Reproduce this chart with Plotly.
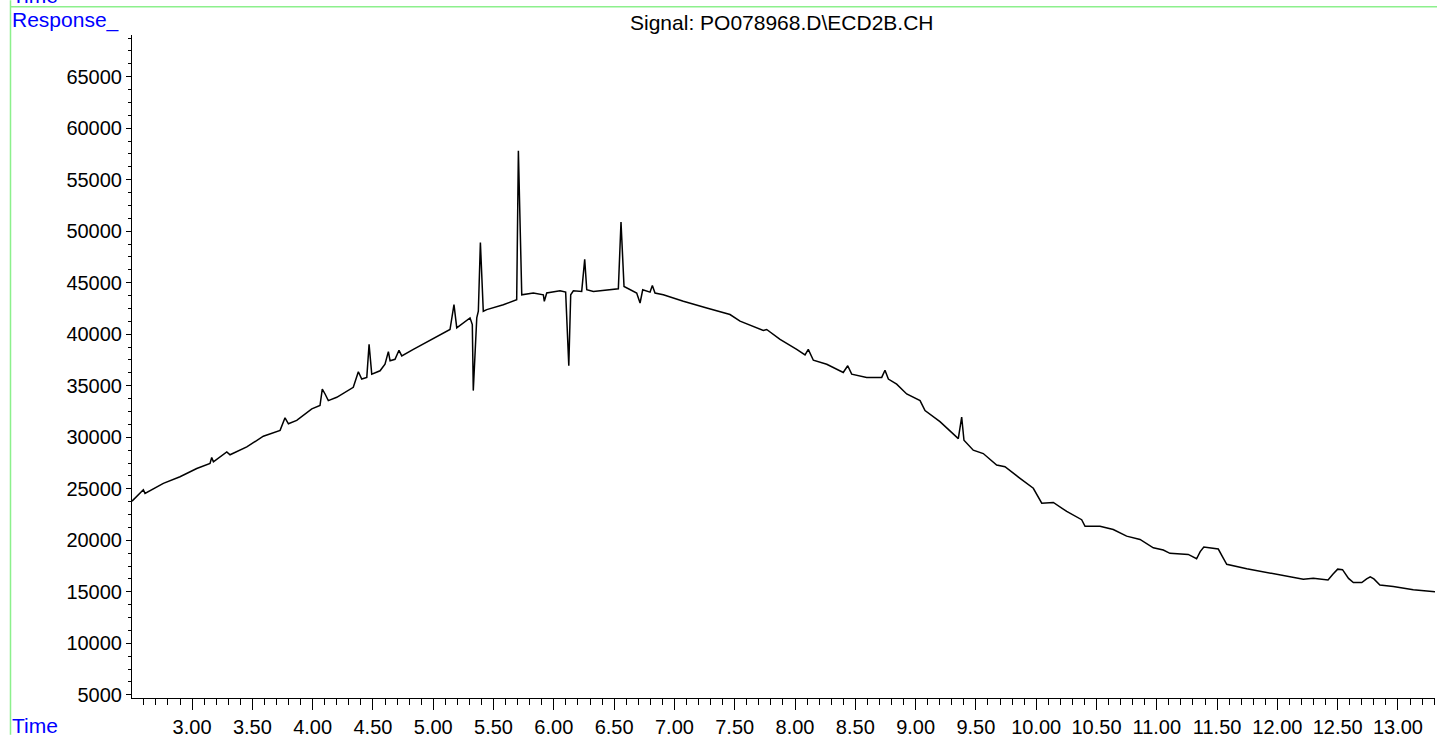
import plotly.graph_objects as go

# Chromatogram (time in min, response)
time = [2.502, 2.596, 2.610, 2.762, 2.900, 3.039, 3.149, 3.163, 3.177, 3.288,
        3.315, 3.454, 3.591, 3.730, 3.771, 3.799, 3.868, 3.993, 4.061, 4.080,
        4.103, 4.130, 4.200, 4.337, 4.379, 4.407, 4.449, 4.468, 4.490, 4.559,
        4.600, 4.628, 4.642, 4.683, 4.716, 4.739, 4.835, 4.959, 5.139, 5.172,
        5.195, 5.305, 5.324, 5.332, 5.361, 5.374, 5.391, 5.415, 5.444, 5.581,
        5.692, 5.706, 5.734, 5.830, 5.913, 5.921, 5.941, 6.051, 6.098, 6.124,
        6.140, 6.162, 6.231, 6.256, 6.273, 6.328, 6.535, 6.557, 6.582, 6.687,
        6.715, 6.737, 6.798, 6.817, 6.839, 6.908, 7.074, 7.268, 7.461, 7.544,
        7.737, 7.765, 7.876, 8.014, 8.083, 8.110, 8.152, 8.263, 8.400, 8.437,
        8.470, 8.594, 8.719, 8.746, 8.774, 8.843, 8.926, 9.037, 9.078, 9.202,
        9.354, 9.382, 9.401, 9.478, 9.561, 9.672, 9.741, 9.866, 9.976, 10.046,
        10.142, 10.253, 10.377, 10.405, 10.529, 10.639, 10.750, 10.861, 10.971, 11.054,
        11.109, 11.261, 11.330, 11.360, 11.390, 11.450, 11.510, 11.550, 11.580, 11.746,
        12.022, 12.215, 12.298, 12.420, 12.460, 12.500, 12.540, 12.590, 12.630, 12.700,
        12.740, 12.770, 12.800, 12.850, 12.961, 13.127, 13.307]

response = [23800, 24900, 24550, 25530, 26170, 26970, 27450, 28030, 27620, 28580,
            28300, 29060, 30100, 30670, 31890, 31310, 31640, 32750, 33080, 34680,
            34200, 33560, 33880, 34850, 36360, 35650, 35810, 39020, 36130, 36450,
            37090, 38310, 37420, 37570, 38440, 37900, 38530, 39350, 40460, 42870,
            40630, 41590, 40940, 34530, 41590, 42230, 48910, 42230, 42390, 42870,
            43350, 57800, 43830, 44000, 43830, 43200, 44000, 44220, 44090, 36940,
            43830, 44220, 44160, 47270, 44320, 44160, 44410, 50900, 44640, 44000,
            43030, 44320, 44090, 44720, 44000, 43830, 43200, 42550, 41910, 41270,
            40370, 40460, 39500, 38530, 38000, 38530, 37480, 37090, 36290, 36940,
            36130, 35810, 35810, 36510, 35650, 35160, 34200, 33560, 32600, 31520,
            29870, 31950, 29710, 28750, 28420, 27300, 27140, 26010, 25050, 23600,
            23670, 22800, 22000, 21360, 21360, 21040, 20400, 20080, 19270, 19050,
            18730, 18630, 18210, 18900, 19350, 19250, 19150, 18300, 17670, 17240,
            16610, 16220, 16320, 16150, 16700, 17200, 17150, 16300, 15900, 15900,
            16250, 16450, 16250, 15650, 15510, 15190, 15000]

title_text = "Signal: PO078968.D\\ECD2B.CH"
font_family = "Arial, Liberation Sans, sans-serif"

fig = go.Figure()
fig.add_trace(go.Scatter(x=time, y=response, mode="lines",
                         line=dict(color="black", width=1.5),
                         hoverinfo="skip", showlegend=False))

W, H = 1437, 740
L, R, T, B = 132, 2, 35, 37
pw, ph = W - L - R, H - T - B

def px(xs):  # screen x -> paper x
    return (xs - L) / pw

def py(ys):  # screen y -> paper y
    return (H - B - ys) / ph

fig.update_layout(
    width=W, height=H,
    margin=dict(l=L, r=R, t=T, b=B, pad=0),
    paper_bgcolor="white", plot_bgcolor="white",
    font=dict(family=font_family, size=20, color="black"),
    showlegend=False,
    xaxis=dict(range=[2.502, 13.307], tick0=0, dtick=0.5, tickformat=".2f",
               showgrid=False, zeroline=False, showline=True, linecolor="black",
               linewidth=1, ticks="outside", ticklen=11, tickcolor="black",
               tickwidth=1, tickfont=dict(size=20, family=font_family),
               minor=dict(dtick=0.1, tick0=0, ticks="outside", ticklen=6,
                          tickcolor="black", tickwidth=1, showgrid=False)),
    yaxis=dict(range=[4691, 69046], tick0=0, dtick=5000, tickformat="d",
               showgrid=False, zeroline=False, showline=True, linecolor="black",
               linewidth=1, ticks="outside", ticklen=5, tickcolor="black",
               tickwidth=1, tickfont=dict(size=20, family=font_family),
               minor=dict(dtick=1250, tick0=0, ticks="outside", ticklen=3,
                          tickcolor="black", tickwidth=1, showgrid=False)),
    shapes=[
        dict(type="line", xref="paper", yref="paper",
             x0=px(10.5), x1=px(10.5), y0=py(0), y1=py(740),
             line=dict(color="#8CF08C", width=1.5)),
        dict(type="line", xref="paper", yref="paper",
             x0=px(10.5), x1=px(1437), y0=py(6.5), y1=py(6.5),
             line=dict(color="#8CF08C", width=1.5)),
    ],
    annotations=[
        dict(text=title_text, xref="paper", yref="paper", x=px(782), y=py(22),
             xanchor="center", yanchor="middle", showarrow=False,
             font=dict(size=21, family=font_family, color="black")),
        dict(text="Response_", xref="paper", yref="paper", x=px(10), y=py(20),
             xanchor="left", yanchor="middle", showarrow=False,
             font=dict(size=21, family=font_family, color="#0000FF")),
        dict(text="Time", xref="paper", yref="paper", x=px(10), y=py(731),
             xanchor="left", yanchor="middle", showarrow=False,
             font=dict(size=21, family=font_family, color="#0000FF")),
        dict(text="Time", xref="paper", yref="paper", x=px(10), y=py(-5),
             xanchor="left", yanchor="middle", showarrow=False,
             font=dict(size=21, family=font_family, color="#0000FF")),
    ],
)

# Remove the default page margin so the figure sits at the window's corner.
fig.write_html("out.html", config={"displayModeBar": False},
               post_script="document.body.style.margin='0';"
                           "document.body.style.overflow='hidden';")
